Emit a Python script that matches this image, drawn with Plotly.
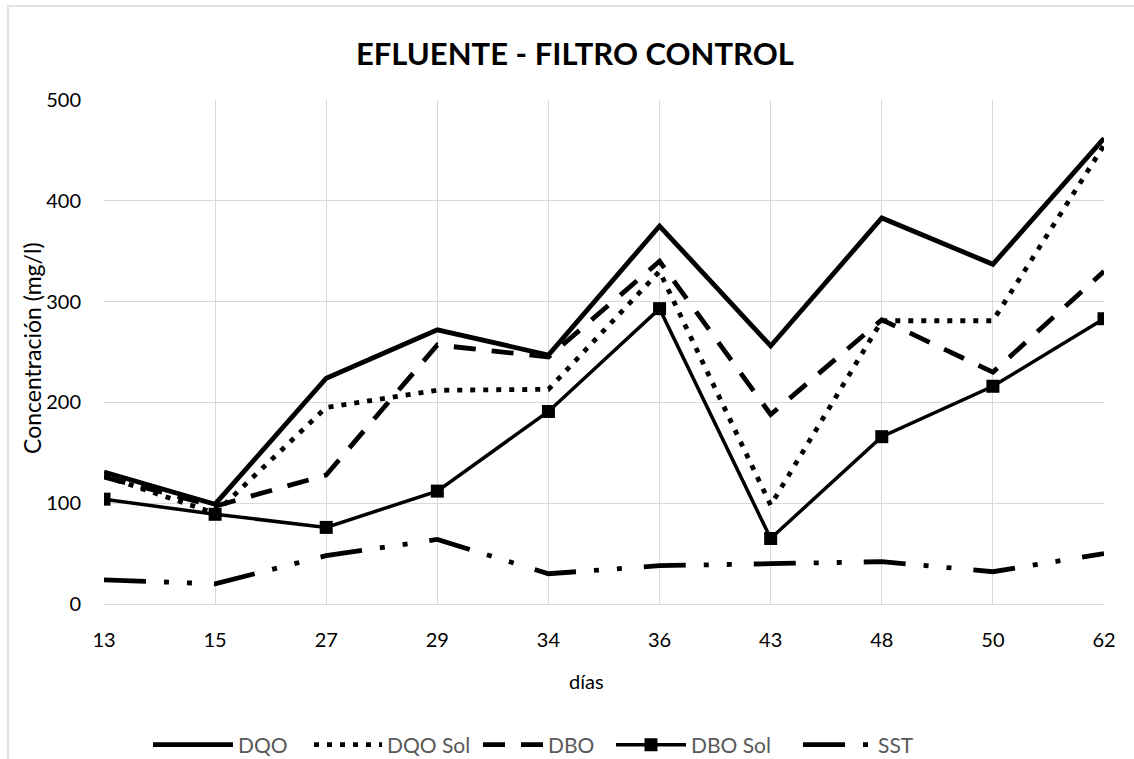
import plotly.graph_objects as go

days = ["13", "15", "27", "29", "34", "36", "43", "48", "50", "62"]
dqo = [131, 99, 224, 272, 247, 375, 256, 383, 337, 462]
dqo_sol = [127, 90, 195, 212, 213, 330, 98, 281, 281, 455]
dbo = [126, 97, 128, 257, 245, 340, 188, 282, 230, 330]
dbo_sol = [104, 89, 76, 112, 191, 293, 65, 166, 216, 283]
sst = [24, 20, 48, 64, 30, 38, 40, 42, 32, 50]

FONT = "Lato, Carlito, Calibri, sans-serif"

fig = go.Figure()
fig.add_trace(go.Scatter(x=days, y=dqo, name="DQO", mode="lines", legend="legend",
                         line=dict(color="black", width=4.8)))
fig.add_trace(go.Scatter(x=days, y=dqo_sol, name="DQO Sol", mode="lines", legend="legend2",
                         line=dict(color="black", width=4.8, dash="5px,8px")))
fig.add_trace(go.Scatter(x=days, y=dbo, name="DBO", mode="lines", legend="legend3",
                         line=dict(color="black", width=4.8, dash="22px,16px")))
fig.add_trace(go.Scatter(x=days, y=dbo_sol, name="DBO Sol", mode="lines+markers",
                         legend="legend4",
                         line=dict(color="black", width=3.5),
                         marker=dict(symbol="square", size=13, color="black")))
fig.add_trace(go.Scatter(x=days, y=sst, name="SST", mode="lines", legend="legend5",
                         line=dict(color="black", width=4.8,
                                   dash="42px,18px,5px,18px,5px,22px")))


def leg(px, w):
    return dict(orientation="h", x=(px - 104) / 1000, xanchor="left",
                y=(604 - 745) / 504, yanchor="middle",
                font=dict(family=FONT, size=21, color="#595959"),
                itemwidth=w, bgcolor="rgba(0,0,0,0)")


fig.update_layout(
    width=1134, height=759,
    margin=dict(l=104, r=30, t=100, b=155, autoexpand=False),
    paper_bgcolor="white", plot_bgcolor="white",
    font=dict(family=FONT, color="black", size=20),
    title=dict(text="<b>EFLUENTE - FILTRO CONTROL</b>", x=0.507, xanchor="center",
               y=1 - 54 / 759, yanchor="middle",
               font=dict(family=FONT, size=31, color="black")),
    showlegend=True,
    legend=leg(148, 80), legend2=leg(309, 68), legend3=leg(478, 60),
    legend4=leg(611, 70), legend5=leg(798, 70),
)
fig.update_xaxes(type="category", range=[0, 9], showgrid=True, gridcolor="#D9D9D9",
                 gridwidth=1.3, showline=True, linecolor="#D9D9D9", linewidth=1.3,
                 ticks="", ticklabelstandoff=18, zeroline=False,
                 tickfont=dict(family=FONT, size=20, color="black"))
fig.update_yaxes(range=[0, 500], dtick=100, showgrid=True, gridcolor="#D9D9D9",
                 gridwidth=1.3, showline=False, zeroline=False, ticks="",
                 ticklabelstandoff=22,
                 tickfont=dict(family=FONT, size=20, color="black"))

# axis titles
fig.add_annotation(text="días", xref="paper", yref="paper",
                   x=(586 - 104) / 1000, y=(604 - 681) / 504,
                   xanchor="center", yanchor="middle", showarrow=False,
                   font=dict(family=FONT, size=20, color="black"))
fig.add_annotation(text="Concentración (mg/l)", xref="paper", yref="paper",
                   x=(32 - 104) / 1000, y=(604 - 348) / 504, textangle=-90,
                   xanchor="center", yanchor="middle", showarrow=False,
                   font=dict(family=FONT, size=23, color="black"))

# chart-area border
fig.add_shape(type="rect", xref="paper", yref="paper",
              x0=(8 - 104) / 1000, x1=1.2, y0=-0.5, y1=(604 - 6) / 504,
              line=dict(color="#D9D9D9", width=1.5), layer="below")

fig.write_html("out.html")
